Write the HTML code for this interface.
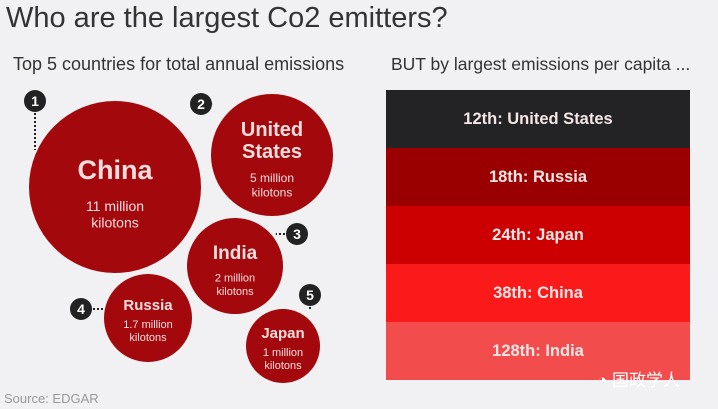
<!DOCTYPE html>
<html><head><meta charset="utf-8"><style>
body{margin:0;width:718px;height:409px;background:#f1f0f2;font-family:"Liberation Sans","Noto Sans CJK SC",sans-serif;overflow:hidden;position:relative}
.t{position:absolute;white-space:nowrap}
</style></head><body>
<div class="t" style="left:6px;top:2px;font-size:29px;color:#333">Who are the largest Co2 emitters?</div>
<div class="t" style="left:13px;top:54px;font-size:18px;color:#333">Top 5 countries for total annual emissions</div>
<div class="t" style="left:391px;top:54px;font-size:17.5px;color:#333">BUT by largest emissions per capita ...</div>
<svg id="bub" width="718" height="409" style="position:absolute;left:0;top:0"></svg>
<div class="t" style="left:4px;top:391px;font-size:13px;color:#999">Source: EDGAR</div>
<div class="t" style="left:597px;top:366px;font-size:17px;color:#fff">◔ 国政学人</div>
<script>
const countries=["China","United States","India","Russia","Japan"];
const values=["11 million","5 million","2 million","1.7 million","1 million"];
const ranks=[1,2,3,4,5];
const perCapita=["12th: United States","18th: Russia","24th: Japan","38th: China","128th: India"];
const NS="http://www.w3.org/2000/svg";
const svg=document.getElementById('bub');
const C=[[115,187,86],[272,155,61],[235,266,48],[148,318,44],[283,346,37]];
const B=[[35,101,'v'],[201,104,'h'],[297,234,'h'],[81,309,'h'],[310,295,'v']];
const nameSize=[27,20,19,15,15],subSize=[14,12,11,11,11];
function el(t,a){const e=document.createElementNS(NS,t);for(const k in a)e.setAttribute(k,a[k]);svg.appendChild(e);return e;}
countries.forEach((c,i)=>{
 const [x,y,r]=C[i];
 const circ=el('circle',{cx:x,cy:y,r:r,fill:'#a3080d'});
 
 
 const [bx,by,d]=B[i];
 if(d==='v'){const ey=i==0?150:y-r;el('line',{x1:bx,y1:by+12,x2:bx,y2:ey,stroke:'#222','stroke-width':2,'stroke-dasharray':'2,2'});}
 else{const ex=bx<x?x-r*0.97:x+r*0.85;el('line',{x1:bx<x?bx+12:bx-12,y1:by,x2:ex,y2:by,stroke:'#222','stroke-width':2,'stroke-dasharray':'2,2'});}
 const bc=el('circle',{cx:bx,cy:by,r:11,fill:'#222'});
 
 
 const bt=el('text',{x:bx,y:by+5,'text-anchor':'middle','font-size':14,'font-weight':'bold',fill:'#fff'});bt.textContent=ranks[i];
 const lines=c==="United States"?["United","States"]:[c];
 const ns=nameSize[i],ss=subSize[i];
 const total=lines.length*ns*1.1+ss*2.3;
 let ty=y-total/2+ns*0.85;
 lines.forEach(l=>{const t=el('text',{x:x,y:ty,'text-anchor':'middle','font-size':ns,'font-weight':'bold',fill:'#f6dede'});t.textContent=l;ty+=ns*1.1;});
 ty+=ss*0.15;
 [values[i],"kilotons"].forEach(l=>{const t=el('text',{x:x,y:ty,'text-anchor':'middle','font-size':ss,fill:'#f6dede'});t.textContent=l;ty+=ss*1.2;});
});
const colors=['#232326','#9b0000','#cc0000','#fb1a1a','#f34c4c'];
const rowH=58;
perCapita.forEach((p,i)=>{
 const y=90+i*rowH;
 const r=el('rect',{x:386,y:y,width:304,height:rowH,fill:colors[i]});
 
 
 const t=el('text',{x:538,y:y+34,'text-anchor':'middle','font-size':16.5,'font-weight':'bold',fill:'#f4e6e6'});t.textContent=p;
});
</script>
</body></html>
